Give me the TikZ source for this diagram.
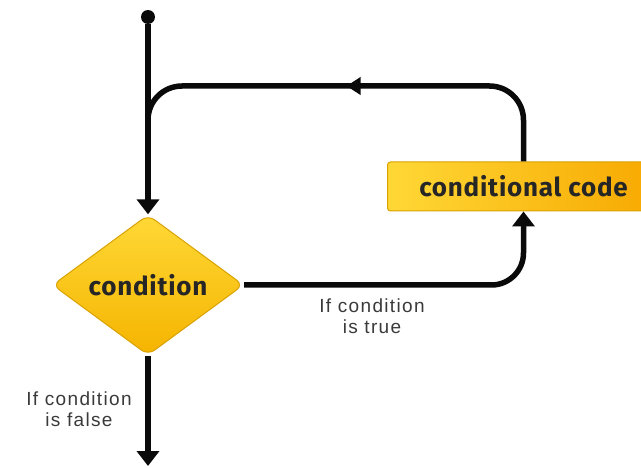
\documentclass[tikz,border=0pt]{standalone}
\usepackage{fontspec}
\setmainfont{Liberation Sans}
\newfontfamily\boxfont[LetterSpace=3]{Fira Sans}
\newfontfamily\notefont[LetterSpace=7]{Liberation Sans}
\usetikzlibrary{shapes.geometric,arrows.meta,decorations.markings}
\definecolor{flowline}{HTML}{0A0A0A}
\definecolor{labelgrey}{HTML}{3A3A3A}
\definecolor{goldedge}{HTML}{D9A200}
\definecolor{yellowlight}{HTML}{FFD836}
\definecolor{yellowdark}{HTML}{F5B400}
\definecolor{orangeright}{HTML}{F7A800}
\tikzset{
  flow/.style={line width=5.5pt, draw=flowline},
  tip/.style={-{Triangle[length=15pt,width=22pt]}},
  decision/.style={diamond, draw=goldedge, line width=1pt, rounded corners=8pt,
    top color=yellowlight, bottom color=yellowdark,
    minimum width=191pt, minimum height=140pt, inner sep=0pt,
    font=\boxfont\bfseries\fontsize{26}{28}\selectfont, text=black!85},
  action/.style={rectangle, draw=goldedge, line width=1pt, rounded corners=3pt,
    left color=yellowlight, right color=orangeright,
    minimum width=272pt, minimum height=49pt, inner sep=0pt,
    font=\boxfont\bfseries\fontsize{26}{28}\selectfont, text=black!85},
  note/.style={align=center, text=labelgrey, font=\notefont\fontsize{19}{21}\selectfont},
  midarrow/.style={postaction={decorate}, decoration={markings,
    mark=at position 0.5 with {\arrow{Triangle[length=14pt,width=17pt]}}}}
}
\begin{document}
\begin{tikzpicture}[x=1pt,y=-1pt]
  \useasboundingbox (0,0) rectangle (641,468);
  \clip (0,0) rectangle (641,468);
  \fill[white] (0,0) rectangle (641,468);

  % nodes
  \node[circle, fill=flowline, inner sep=0pt, minimum size=14pt] (start) at (148,17) {};
  \node[decision] (cond) at (148,285) {condition};
  \node[action] (code) at (523.5,186.5) {conditional code};
  \coordinate (join) at (148,140);
  \coordinate (exit) at (148,466);

  % connectors
  \draw[flow, tip] (start) -- (cond.north);
  \draw[flow, midarrow, rounded corners=34pt]
    (code.north) -- (code.north |- 0,86) -- (148,86) -- (join);
  \draw[flow, tip, rounded corners=32pt]
    (cond.east) -- (code.south |- cond.east) -- (code.south);
  \draw[flow, tip] (cond.south) -- (exit);

  % labels
  \node[note] (falsenote) at (79,409) {If condition\\is false};
  \node[note] (truenote) at (372,316) {If condition\\is true};
\end{tikzpicture}
\end{document}
